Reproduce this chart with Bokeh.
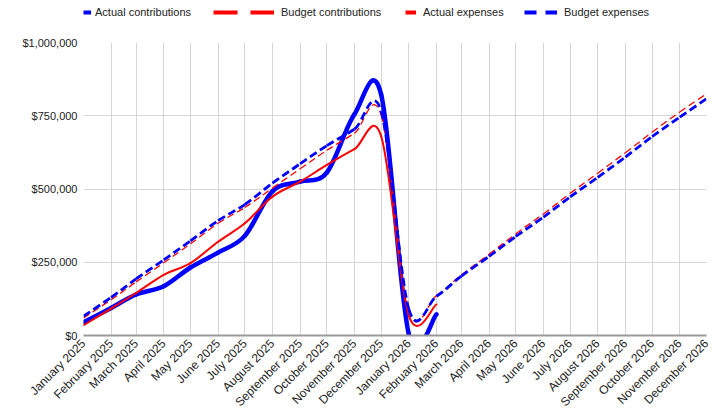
import math
import pandas as pd
from bokeh.plotting import figure
from bokeh.layouts import column
from bokeh.models import (Range1d, FixedTicker, NumeralTickFormatter, DatetimeTickFormatter,
                          Legend, LegendItem)
from bokeh.embed import file_html
from bokeh.resources import INLINE

months = ["2025-01-01", "2025-02-01", "2025-03-01", "2025-04-01", "2025-05-01", "2025-06-01",
          "2025-07-01", "2025-08-01", "2025-09-01", "2025-10-01", "2025-11-01", "2025-12-01",
          "2026-01-01", "2026-02-01", "2026-03-01", "2026-04-01", "2026-05-01", "2026-06-01",
          "2026-07-01", "2026-08-01", "2026-09-01", "2026-10-01", "2026-11-01", "2026-12-01"]

actual_contributions = [45000, 94000, 140000, 168000, 232000, 283000, 340000, 492000, 525000,
                        556000, 755000, 822000, 5000, 72000]
budget_contributions = [60000, 122000, 183000, 248000, 313000, 383000, 437000, 503000, 569000,
                        632000, 690000, 752000, 85000, 136000, 207000, 277000, 347000, 415000,
                        485000, 554000, 624000, 694000, 763000, 825000]
actual_expenses = [35000, 92000, 145000, 207000, 247000, 320000, 383000, 474000, 525000,
                   582000, 636000, 680000, 68000, 106000]
budget_expenses = [66000, 130000, 193000, 258000, 323000, 392000, 447000, 520000, 586000,
                   648000, 704000, 765000, 90000, 134000, 203000, 270000, 338000, 404000,
                   473000, 540000, 609000, 679000, 745000, 808000]

y_ticks = [0, 250000, 500000, 750000, 1000000]

x_ms = [float(pd.Timestamp(m).value // 10**6) for m in months]

FONT = "Liberation Sans"
TXT = "#222222"

p = figure(frame_width=623, frame_height=293, output_backend="svg", toolbar_location=None,
           x_axis_type="datetime", min_border_left=83, min_border_right=9,
           min_border_top=18, min_border_bottom=73,
           x_range=Range1d(x_ms[0], x_ms[-1]), y_range=Range1d(0, 1000000))
p.outline_line_color = None
p.background_fill_color = "white"

# axes
p.xaxis.ticker = FixedTicker(ticks=x_ms)
p.xaxis.formatter = DatetimeTickFormatter(days="%B %Y", months="%B %Y", years="%B %Y",
                                          hours="%B %Y", minutes="%B %Y")
p.xaxis.major_label_orientation = math.pi / 4
p.xaxis.major_label_text_font = FONT
p.xaxis.major_label_text_font_size = "12px"
p.xaxis.major_label_text_color = TXT
p.xaxis.major_tick_line_color = None
p.xaxis.minor_tick_line_color = None
p.xaxis.major_tick_out = 0
p.xaxis.major_tick_in = 0
p.xaxis.minor_tick_out = 0
p.xaxis.axis_line_color = "#9a9a9a"
p.xaxis.axis_line_width = 2
p.xaxis.major_label_standoff = 6

p.yaxis.ticker = FixedTicker(ticks=y_ticks)
p.yaxis.formatter = NumeralTickFormatter(format="$0,0")
p.yaxis.major_label_text_font = FONT
p.yaxis.major_label_text_font_size = "11px"
p.yaxis.major_label_text_color = TXT
p.yaxis.major_tick_line_color = None
p.yaxis.minor_tick_line_color = None
p.yaxis.major_tick_out = 0
p.yaxis.major_tick_in = 0
p.yaxis.minor_tick_out = 0
p.yaxis.axis_line_color = None
p.yaxis.major_label_standoff = 6

p.xgrid.ticker = FixedTicker(ticks=x_ms)
p.ygrid.ticker = FixedTicker(ticks=y_ticks)
p.xgrid.grid_line_color = "#d6d6d6"
p.ygrid.grid_line_color = "#d6d6d6"


def smooth(xs, ys, k=1.0 / 6.0):
    n = len(ys)
    d = dict(x0=[], y0=[], x1=[], y1=[], cx0=[], cy0=[], cx1=[], cy1=[])
    for i in range(n - 1):
        a = max(i - 1, 0)
        b = min(i + 2, n - 1)
        d["x0"].append(xs[i]); d["y0"].append(ys[i])
        d["x1"].append(xs[i + 1]); d["y1"].append(ys[i + 1])
        d["cx0"].append(xs[i] + (xs[i + 1] - xs[a]) * k)
        d["cy0"].append(ys[i] + (ys[i + 1] - ys[a]) * k)
        d["cx1"].append(xs[i + 1] - (xs[b] - xs[i]) * k)
        d["cy1"].append(ys[i + 1] - (ys[b] - ys[i]) * k)
    return d


BLUE = "#0000ff"
RED = "#ff0000"

series = [
    (actual_contributions, dict(line_color=BLUE, line_width=4.5, line_cap="round")),
    (budget_contributions, dict(line_color=RED, line_width=1.3, line_dash="7 4")),
    (actual_expenses, dict(line_color=RED, line_width=2, line_cap="round")),
    (budget_expenses, dict(line_color=BLUE, line_width=2.8, line_dash="8 4")),
]
for vals, style in series:
    d = smooth(x_ms[:len(vals)], vals)
    p.bezier(x0="x0", y0="y0", x1="x1", y1="y1", cx0="cx0", cy0="cy0", cx1="cx1", cy1="cy1",
             source=d, **style)

# legend strip above the plot (its frame is aligned with the main frame, left edge at x=83)
lg = figure(width=715, height=24, output_backend="svg", toolbar_location=None,
            min_border=0, x_axis_location=None, y_axis_location=None,
            x_range=Range1d(0, 1), y_range=Range1d(0, 1))
lg.outline_line_color = None
lg.grid.visible = False

# label, colour, dash, glyph width, offset from frame left, standoff
legend_specs = [
    ("Actual contributions", BLUE, None, 8, 0, 4),
    ("Budget contributions", RED, "24 13", 61, 130, 7),
    ("Actual expenses", RED, None, 11, 322, 7),
    ("Budget expenses", BLUE, "12 9", 33, 441, 7),
]
for label, color, dash, gw, lx, st in legend_specs:
    kw = dict(line_color=color, line_width=4)
    if dash:
        kw["line_dash"] = dash
    r = lg.line(x=[5, 6], y=[5, 6], **kw)
    leg = Legend(items=[LegendItem(label=label, renderers=[r])], location=(lx, 5),
                 orientation="horizontal", glyph_width=gw, glyph_height=14, label_height=14,
                 label_standoff=st, padding=0, margin=0, border_line_color=None,
                 background_fill_alpha=0, label_text_font=FONT,
                 label_text_font_size="11px", label_text_color=TXT)
    lg.add_layout(leg, "center")

layout = column(lg, p, spacing=0)
open("out.html", "w").write(file_html(layout, INLINE))
